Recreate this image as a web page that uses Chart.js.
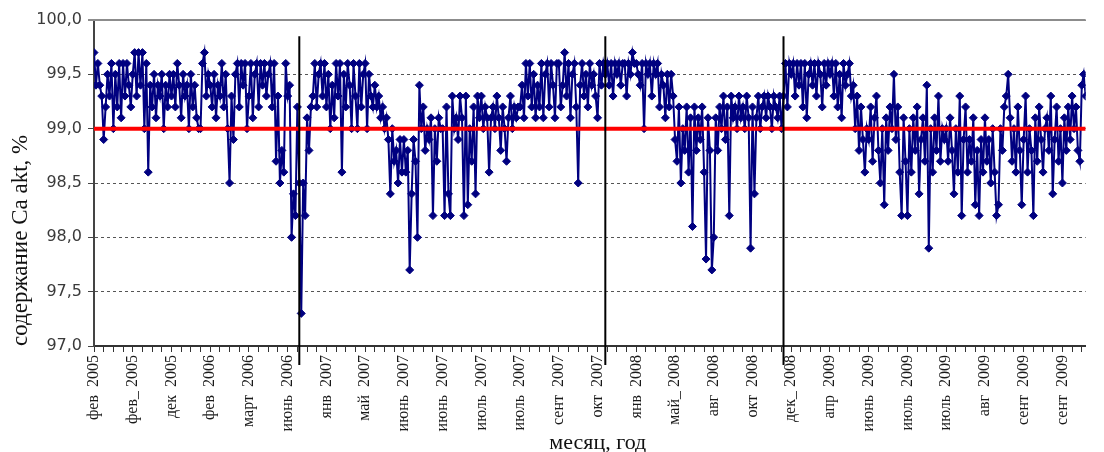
<!DOCTYPE html>
<html lang="ru">
<head>
<meta charset="utf-8">
<title>Ca akt</title>
<script src="https://cdn.jsdelivr.net/npm/chart.js@4.4.1/dist/chart.umd.min.js"></script>
<style>
  html, body { margin: 0; padding: 0; background: #fff; }
  #wrap { width: 1104px; height: 452px; position: relative; }
</style>
</head>
<body>
<div id="wrap"><canvas id="caChart"></canvas></div>
<script>
// one label every 20 measurements
const monthLabels = [
  'фев  2005', 'фев_ 2005', 'дек  2005', 'фев  2006', 'март  2006', 'июнь  2006',
  'янв  2007', 'май  2007', 'июнь  2007', 'июнь  2007', 'июль  2007', 'июль  2007',
  'сент  2007', 'окт  2007', 'янв  2008', 'май_ 2008', 'авг  2008', 'окт  2008',
  'дек_ 2008', 'апр  2009', 'июнь  2009', 'июль  2009', 'июль  2009', 'авг  2009',
  'сент  2009', 'сент  2009'
];
const labelEvery = 20;

// content of Ca akt, % (20 values per label)
const caAkt = [
  99.7,99.4,99.6,99.4,99.3,98.9,99.2,99.5,99.3,99.6,99.0,99.5,99.2,99.6,99.1,99.6,99.3,99.6,99.4,99.2,
  99.5,99.7,99.3,99.7,99.4,99.7,99.0,99.6,98.6,99.4,99.2,99.5,99.1,99.4,99.3,99.5,99.0,99.4,99.2,99.5,
  99.3,99.5,99.2,99.6,99.4,99.1,99.5,99.3,99.4,99.0,99.5,99.2,99.4,99.1,99.0,99.0,99.6,99.7,99.3,99.5,
  99.4,99.2,99.5,99.1,99.4,99.3,99.6,99.2,99.5,99.0,98.5,99.3,98.9,99.5,99.6,99.2,99.6,99.4,99.6,99.0,
  99.3,99.6,99.1,99.5,99.6,99.2,99.6,99.4,99.6,99.3,99.5,99.6,99.2,99.6,98.7,99.3,98.5,98.8,98.6,99.6,
  99.3,99.4,98.0,98.4,98.2,99.2,98.5,97.3,98.5,98.2,99.1,98.8,99.2,99.3,99.6,99.2,99.5,99.6,99.3,99.6,
  99.2,99.5,99.0,99.4,99.1,99.6,99.3,99.6,98.6,99.5,99.2,99.6,99.4,99.0,99.6,99.3,99.0,99.6,99.2,99.5,
  99.6,99.0,99.5,99.3,99.2,99.4,99.2,99.3,99.1,99.2,99.0,99.1,98.9,98.4,99.0,98.7,98.8,98.5,98.9,98.6,
  98.9,98.6,98.8,97.7,98.4,98.9,98.7,98.0,99.4,99.0,99.2,98.8,99.0,98.9,99.1,98.2,99.0,98.7,99.1,99.0,
  99.0,98.2,99.2,98.4,98.2,99.3,99.0,99.1,98.9,99.3,99.1,98.2,99.3,98.3,99.0,98.7,99.2,98.4,99.3,99.1,
  99.3,99.0,99.2,99.1,98.6,99.1,99.2,99.0,99.3,99.1,98.8,99.2,99.0,98.7,99.1,99.3,99.0,99.2,99.1,99.2,
  99.2,99.4,99.1,99.6,99.3,99.6,99.2,99.5,99.1,99.4,99.2,99.6,99.1,99.5,99.6,99.2,99.6,99.4,99.1,99.6,
  99.6,99.2,99.4,99.7,99.3,99.6,99.1,99.5,99.6,99.2,98.5,99.4,99.6,99.3,99.5,99.2,99.6,99.4,99.5,99.3,
  99.1,99.6,99.4,99.6,99.5,99.6,99.4,99.6,99.3,99.6,99.5,99.6,99.4,99.6,99.6,99.3,99.6,99.5,99.7,99.6,
  99.6,99.5,99.4,99.6,99.0,99.6,99.5,99.6,99.3,99.6,99.5,99.6,99.2,99.5,99.4,99.1,99.5,99.2,99.5,99.3,
  98.9,98.7,99.2,98.5,99.0,98.8,99.2,98.6,99.1,98.1,99.2,98.8,99.1,98.9,99.2,98.6,97.8,99.1,98.8,97.7,
  98.0,99.1,98.8,99.2,99.0,99.3,98.9,99.2,98.2,99.3,99.1,99.2,99.0,99.3,99.1,99.2,99.0,99.3,99.1,97.9,
  99.2,98.4,99.1,99.3,99.0,99.2,99.3,99.1,99.3,99.2,99.0,99.3,99.2,99.1,99.3,99.0,99.3,99.6,99.2,99.6,
  99.5,99.6,99.3,99.6,99.4,99.6,99.2,99.6,99.1,99.5,99.6,99.4,99.6,99.3,99.6,99.5,99.2,99.6,99.4,99.6,
  99.5,99.6,99.3,99.6,99.2,99.5,99.1,99.6,99.4,99.5,99.6,99.3,99.4,99.0,99.3,98.8,99.2,98.9,98.6,99.0,
  98.9,99.2,98.7,99.1,99.3,98.8,98.5,99.0,98.3,99.1,98.8,99.2,99.0,99.5,98.9,99.2,98.6,98.2,99.1,98.7,
  98.2,99.0,98.6,99.1,98.8,99.2,98.4,98.9,99.1,98.7,99.4,97.9,99.0,98.6,99.1,98.8,99.3,98.7,99.0,98.9,
  99.0,98.7,99.1,98.8,98.4,99.0,98.6,99.3,98.2,98.9,99.2,98.6,98.9,98.7,99.1,98.3,98.8,98.2,98.9,98.6,
  99.1,98.7,98.9,98.5,99.0,98.6,98.2,98.3,99.0,98.8,99.2,99.3,99.5,99.1,98.7,99.0,98.6,99.2,98.8,98.3,
  98.9,99.3,98.6,99.0,98.8,98.2,99.1,98.7,99.2,98.9,98.6,99.0,99.1,98.8,99.3,98.4,98.9,99.2,98.7,99.0,
  98.5,99.1,98.8,99.2,98.9,99.3,99.0,99.2,98.8,98.7,99.4,99.5,99.3
];

const normLevel = 99.0;          // red requirement line
const breakIdx = [106, 264, 356]; // vertical separators between periods
const breakTop = 99.85;
const yMin = 97.0, yMax = 100.0, yStep = 0.5;

const points = caAkt.map((v, i) => ({x: i, y: v}));
const lastIdx = caAkt.length - 1;

const framePlugin = {
  id: 'frame',
  beforeDatasetsDraw(chart) {
    const {ctx, chartArea} = chart;
    ctx.save();
    ctx.strokeStyle = '#8c8c8c';
    ctx.lineWidth = 2;
    ctx.beginPath();
    ctx.moveTo(chartArea.left - 6, chartArea.top);
    ctx.lineTo(chartArea.right, chartArea.top);
    ctx.stroke();
    ctx.restore();
  },
  afterDatasetsDraw(chart) {
    const {ctx, chartArea, scales} = chart;
    ctx.save();
    ctx.strokeStyle = '#000';
    ctx.lineWidth = 2;
    breakIdx.forEach(i => {
      const x = scales.x.getPixelForValue(i);
      ctx.beginPath();
      ctx.moveTo(x, scales.y.getPixelForValue(breakTop));
      ctx.lineTo(x, chartArea.bottom + 19);
      ctx.stroke();
    });
    // axis title under the rotated month labels
    ctx.font = '22px "Liberation Serif", "Times New Roman", serif';
    ctx.fillStyle = '#111';
    ctx.textAlign = 'center';
    ctx.textBaseline = 'alphabetic';
    ctx.fillText('месяц, год', (chartArea.left + chartArea.right) / 2 + 8, chart.height - 3);
    ctx.restore();
  }
};

const ctx = document.getElementById('caChart').getContext('2d');

const chart = new Chart(ctx, {
  type: 'line',
  data: {
    datasets: [
      {
        label: 'норма',
        data: [{x: 0, y: normLevel}, {x: lastIdx, y: normLevel}],
        borderColor: '#ff0000',
        borderWidth: 4,
        pointRadius: 0
      },
      {
        label: 'Ca akt',
        data: points,
        borderColor: '#000080',
        backgroundColor: '#000080',
        borderWidth: 2,
        pointStyle: 'rectRot',
        pointRadius: 4,
        pointBorderWidth: 1,
        tension: 0
      }
    ]
  },
  options: {
    responsive: true,
    maintainAspectRatio: false,
    animation: false,
    layout: {padding: {top: 20, right: 0, left: 0, bottom: 0}},
    plugins: {
      legend: {display: false},
      tooltip: {enabled: false}
    },
    scales: {
      x: {
        type: 'linear',
        min: 0,
        max: lastIdx,
        afterFit(scale) { scale.height = 106; },
        ticks: {
          stepSize: 5,
          autoSkip: false,
          includeBounds: false,
          maxRotation: 90,
          minRotation: 90,
          padding: 3,
          color: '#1a1a1a',
          font: {family: '"Liberation Serif", "Times New Roman", serif', size: 16},
          callback: (v) => (v % labelEvery === 0 ? (monthLabels[v / labelEvery] || '') : '')
        },
        grid: {
          drawOnChartArea: false,
          drawTicks: true,
          tickLength: 6,
          tickColor: '#333',
          tickWidth: 1
        },
        border: {color: '#333', width: 2}
      },
      y: {
        min: yMin,
        max: yMax,
        afterFit(scale) { scale.width = 94; },
        ticks: {
          stepSize: yStep,
          padding: 6,
          color: '#3a3a3a',
          font: {family: '"DejaVu Sans", Verdana, sans-serif', size: 16},
          callback: (v) => v.toFixed(1).replace('.', ',')
        },
        grid: {
          color: '#555',
          lineWidth: 1,
          drawTicks: true,
          tickLength: 6,
          tickColor: '#444'
        },
        border: {color: '#444', width: 2, dash: [3, 3]},
        title: {
          display: true,
          text: 'содержание Ca akt, %',
          align: 'start',
          color: '#111',
          padding: {top: 7, bottom: 0},
          font: {family: '"Liberation Serif", "Times New Roman", serif', size: 23}
        }
      }
    }
  },
  plugins: [framePlugin]
});
</script>
</body>
</html>
